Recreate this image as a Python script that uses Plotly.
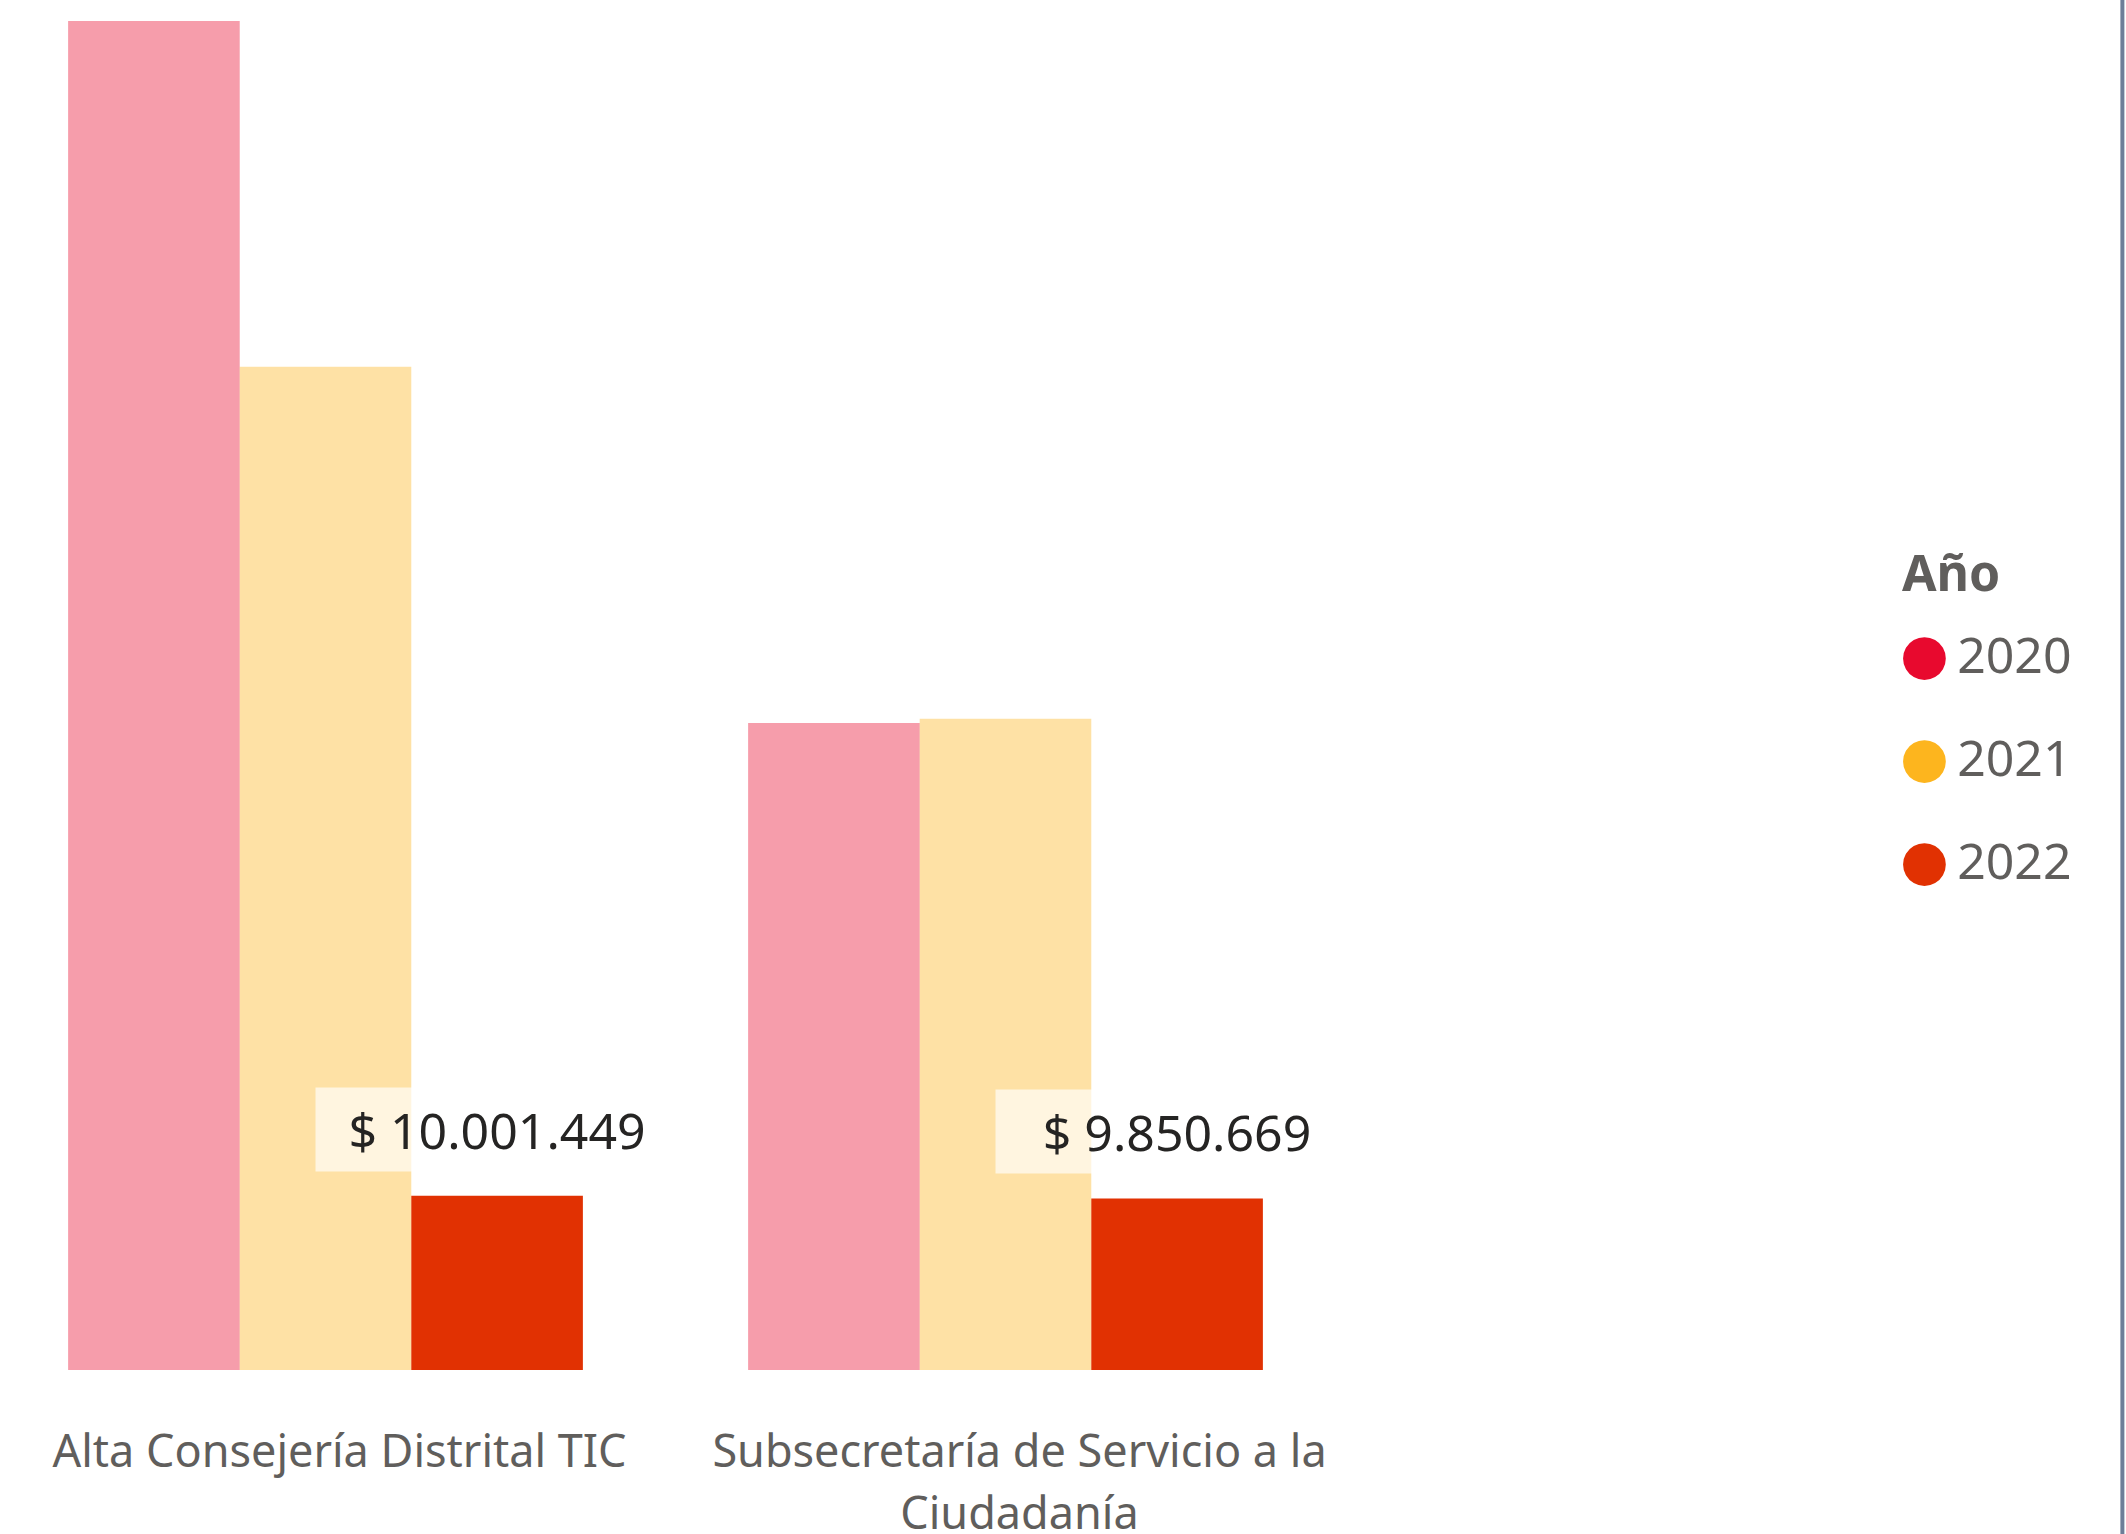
import plotly.graph_objects as go

# Budget by dependency and year
categories = ["Alta Consejería Distrital TIC", "Subsecretaría de Servicio a la Ciudadanía"]
tick_labels = ["Alta Consejería Distrital TIC", "Subsecretaría de Servicio a la<br>Ciudadanía"]
years = ["2020", "2021", "2022"]
legend_title = "Año"
values_2020 = [77_460_000, 37_150_000]
values_2021 = [57_610_000, 37_400_000]
values_2022 = [10_001_449, 9_850_669]

series = [values_2020, values_2021, values_2022]
colors = ["#E8092E", "#FDB51E", "#E13102"]
highlighted = "2022"          # selected year: full colour, others faded

FONT = "Noto Sans, Segoe UI, DejaVu Sans, sans-serif"
GREY = "#605E5C"
BARGAP = 0.243
W, H, PLOT_BOTTOM = 2126, 1534, 1370


def money(v):
    return "$ " + f"{v:,}".replace(",", ".")


def sized(text, px):
    # keep each line at the given size while the axis font sets line spacing
    return "<br>".join(f"<span style='font-size:{px}px'>{part}</span>" for part in text.split("<br>"))


fig = go.Figure()
for year, vals, col in zip(years, series, colors):
    fig.add_trace(go.Bar(
        x=categories, y=vals, name=year,
        marker=dict(color=col, opacity=1.0 if year == highlighted else 0.4, line=dict(width=0)),
        showlegend=False, hoverinfo="skip",
    ))

# Legend entries with round swatches
for year, col in zip(years, colors):
    fig.add_trace(go.Scatter(
        x=[None], y=[None], mode="markers",
        marker=dict(color="rgba(0,0,0,0)", size=1),
        name=f'<span style="color:{col};font-size:56px">●</span>\u2009{year}',
        legendgroup=year,
    ))

# Value labels for the highlighted year
bar_w = (1 - BARGAP) / len(years)
idx = years.index(highlighted)
offset = (idx - (len(years) - 1) / 2) * bar_w
for i, v in enumerate(series[idx]):
    fig.add_annotation(
        x=i + offset, y=v, xref="x", yref="y",
        text=money(v), showarrow=False,
        yanchor="bottom", yshift=24,
        width=360, height=81, align="center", valign="middle",
        bgcolor="rgba(255,255,255,0.65)",
        font=dict(family=FONT, size=50, color="#252423"),
    )

# Legend heading
fig.add_annotation(
    x=1900 / W, y=1 - 572 / PLOT_BOTTOM, xref="paper", yref="paper",
    text=f"<b>{legend_title}</b>", showarrow=False,
    xanchor="left", yanchor="middle",
    font=dict(family=FONT, size=50, color=GREY),
)

# Right-hand panel border
fig.add_shape(type="line", xref="paper", yref="paper",
              x0=0.9983, x1=0.9983, y0=-0.2, y1=1.0,
              line=dict(color="#6E7E98", width=4))

PX_PER_UNIT = 680
fig.update_layout(
    width=W, height=H,
    margin=dict(l=0, r=0, t=0, b=H - PLOT_BOTTOM, autoexpand=False),
    paper_bgcolor="white", plot_bgcolor="white",
    barmode="group", bargap=BARGAP, bargroupgap=0,
    font=dict(family=FONT, color=GREY),
    xaxis=dict(
        type="category", automargin=False,
        range=[-325.5 / PX_PER_UNIT, (W - 325.5) / PX_PER_UNIT],
        tickvals=categories, ticktext=[sized(t, 45) for t in tick_labels],
        showgrid=False, zeroline=False, showline=False, ticks="",
        tickfont=dict(family=FONT, size=48, color=GREY),
        ticklabelstandoff=48, ticklabelshift=14,
    ),
    yaxis=dict(visible=False, automargin=False, range=[0, PLOT_BOTTOM * 57_420]),
    legend=dict(
        x=1860 / W, y=1 - 614 / PLOT_BOTTOM, xanchor="left", yanchor="top",
        traceorder="grouped", tracegroupgap=35,
        font=dict(family=FONT, size=50, color=GREY),
        bgcolor="rgba(0,0,0,0)", itemwidth=30,
    ),
)

fig.write_html("out.html")
